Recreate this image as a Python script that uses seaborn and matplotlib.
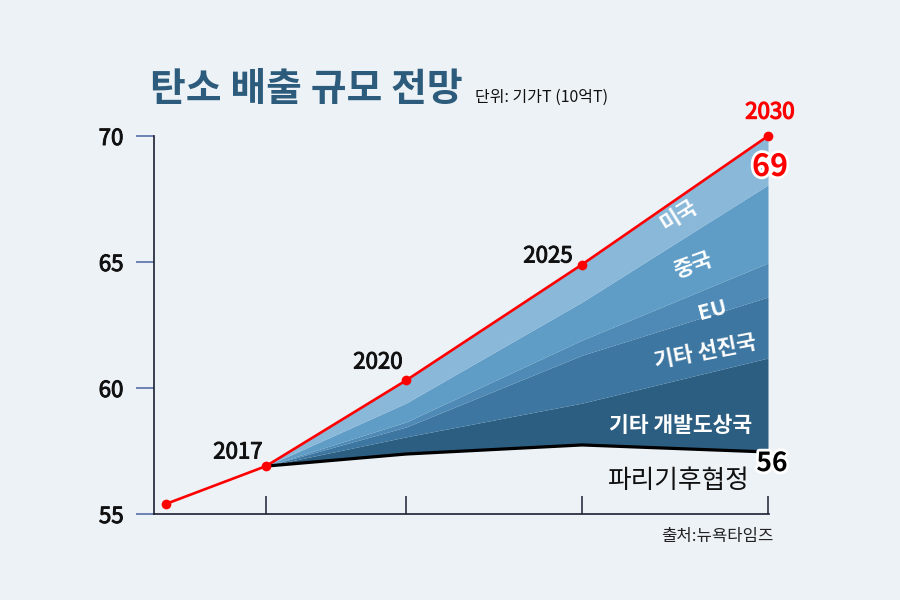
import matplotlib
matplotlib.use('Agg')
import matplotlib.pyplot as plt
import matplotlib.patheffects as pe
import pandas as pd
import seaborn as sns

# ---- values ----
# horizontal slots (the original chart is not drawn to a time scale)
x_pos = [0.0, 1.0, 2.4, 4.16, 6.02]
year_labels = ['', '2017', '2020', '2025', '2030']
total = [55.4, 56.9, 60.3, 64.9, 70.0]   # red line

# stacked bands from 2017 on: upper edge of each band
band_x = x_pos[1:]
paris = [56.9, 57.38, 57.74, 57.46]        # black line (Paris agreement path)
others_dev = [56.9, 58.06, 59.4, 61.19]
others_adv = [56.9, 58.45, 61.3, 63.61]
eu = [56.9, 58.65, 61.9, 64.96]
china = [56.9, 59.40, 63.41, 68.06]
usa = total[1:]

band_names = ['기타 개발도상국', '기타 선진국', 'EU', '중국', '미국']
band_colors = ['#2c5e81', '#3d76a0', '#4e8ab5', '#5f9dc7', '#8ab8d9']
y_ticks = [55, 60, 65, 70]

BG = '#edf2f6'

sns.set_theme(style='white', rc={'figure.facecolor': BG, 'axes.facecolor': BG})
plt.rcParams['font.family'] = ['Noto Sans CJK KR', 'DejaVu Sans']

fig = plt.figure(figsize=(9, 6), dpi=100)
ax = fig.add_axes([154 / 900, 86 / 600, 615 / 900, 378 / 600])

# stacked areas
edges = [paris, others_dev, others_adv, eu, china, usa]
for i, color in enumerate(band_colors):
    ax.fill_between(band_x, edges[i], edges[i + 1], color=color, linewidth=0, zorder=2)

# Paris agreement line
ax.plot(band_x, paris, color='black', linewidth=2.3, zorder=4, solid_capstyle='butt')

# total emissions (red)
df = pd.DataFrame({'x': x_pos, 'total': total})
sns.lineplot(data=df, x='x', y='total', ax=ax, color='#ff0000', linewidth=1.9,
             marker='o', markersize=7, markeredgewidth=0, zorder=5, clip_on=False)

ax.set_xlim(-0.12, 6.03)
ax.set_ylim(55, 70)
ax.set_xlabel('')
ax.set_ylabel('')

# semi-bold look: thin stroke in the text colour
semi_dark = [pe.withStroke(linewidth=0.7, foreground='#111111')]

# axes styling
for side in ['top', 'right']:
    ax.spines[side].set_visible(False)
ax.spines['left'].set_color('#1c1f33')
ax.spines['bottom'].set_color('#1c1f33')
ax.spines['left'].set_linewidth(1.2)
ax.spines['bottom'].set_linewidth(1.2)
ax.set_yticks(y_ticks)
ax.set_yticklabels([str(t) for t in y_ticks], fontsize=16, color='#111111')
for t in ax.get_yticklabels():
    t.set_path_effects(semi_dark)
ax.tick_params(axis='y', direction='out', length=13, width=1.1, color='#4a64a0', pad=9, left=True)
ax.set_xticks(x_pos[1:])
ax.set_xticklabels([])
ax.tick_params(axis='x', direction='in', length=13, width=1.1, color='#1c1f33', bottom=True)

# year labels
year_text_pos = [None, (0.72, 57.46), (2.12, 61.03), (3.82, 65.24)]
for lbl, p in zip(year_labels[1:4], year_text_pos[1:]):
    ax.text(p[0], p[1], lbl, fontsize=16, color='#111111',
            ha='center', va='center', zorder=6, path_effects=semi_dark)
ax.text(6.04, 70.95, year_labels[4], fontsize=16, color='#ff0000',
        ha='center', va='center', zorder=6,
        path_effects=[pe.withStroke(linewidth=0.9, foreground='#ff0000')])

# end values
white_edge = [pe.withStroke(linewidth=4, foreground='white')]
ax.text(6.04, 68.77, '69', fontsize=22, fontweight='bold', color='#ff0000',
        ha='center', va='center', zorder=7, path_effects=white_edge, clip_on=False)
ax.text(6.06, 57.0, '56', fontsize=19, fontweight='bold', color='black',
        ha='center', va='center', zorder=7, path_effects=white_edge, clip_on=False)
ax.text(5.12, 56.31, '파리기후협정', fontsize=18.5, color='#111111',
        ha='center', va='center', zorder=6)

# band labels
band_label_pos = [(5.15, 58.53, 0), (5.39, 61.43, 11), (5.46, 63.1, 15),
                  (5.27, 64.88, 20), (5.12, 66.87, 32)]
for name, (lx, ly, rot) in zip(band_names, band_label_pos):
    ax.text(lx, ly, name, fontsize=15.5, fontweight='bold', color='white',
            ha='center', va='center', rotation=rot,
            rotation_mode='anchor', zorder=6)

# title, unit, source
fig.text(150 / 900, 1 - 89 / 600, '탄소 배출 규모 전망', fontsize=28, fontweight='bold',
         color='#2d5b7c', ha='left', va='center')
fig.text(475 / 900, 1 - 97 / 600, '단위: 기가T (10억T)', fontsize=11.5,
         color='#111111', ha='left', va='center')
fig.text(773 / 900, 1 - 537 / 600, '출처:뉴욕타임즈', fontsize=12,
         color='#222222', ha='right', va='center')

fig.savefig('out.png', dpi=100, facecolor=BG)
